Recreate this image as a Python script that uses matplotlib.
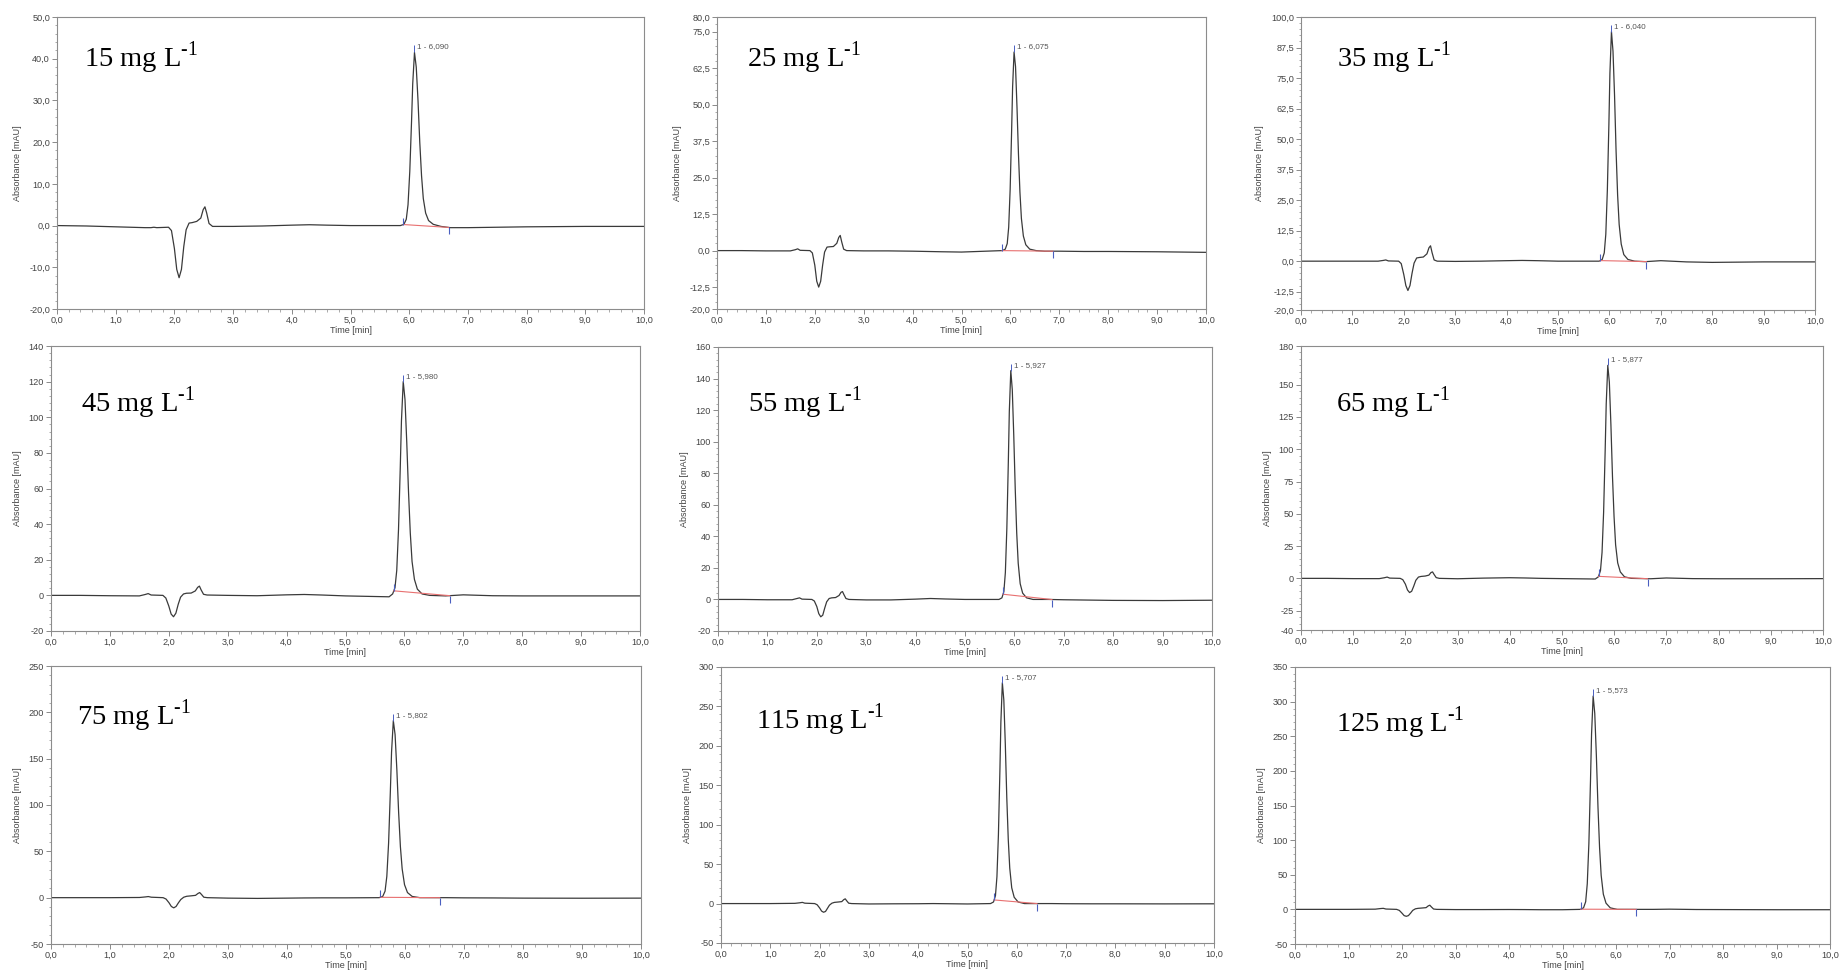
import numpy as np
import matplotlib.pyplot as plt
from matplotlib.ticker import FixedLocator, MultipleLocator, FuncFormatter

plt.rcParams['font.family'] = ['Liberation Sans', 'DejaVu Sans']
plt.rcParams['mathtext.fontset'] = 'custom'
plt.rcParams['mathtext.rm'] = 'Liberation Serif'

W, H = 1839, 973

# concentration of each standard
conc = [15, 25, 35, 45, 55, 65, 75, 115, 125]

# front part of the chromatogram (injection dip and small early peaks), time in min
t_front = [0.0, 0.5, 1.0, 1.5, 1.6, 1.65, 1.7, 1.9, 1.95, 2.0, 2.04, 2.08, 2.12, 2.16, 2.2,
           2.25, 2.3, 2.38, 2.45, 2.49, 2.52, 2.55, 2.59, 2.65, 3.0, 3.5, 4.0, 4.3, 4.6, 5.0]
front_15 = [0.0, -0.1, -0.3, -0.5, -0.5, -0.4, -0.5, -0.4, -1.2, -5.5, -10.5, -12.5, -10.5, -5.0, -1.0,
            0.6, 0.7, 1.0, 1.8, 3.8, 4.5, 3.0, 0.5, -0.2, -0.2, -0.1, 0.1, 0.2, 0.1, 0.0]
front_25 = [0.0, 0.0, -0.1, -0.1, 0.3, 0.6, 0.1, 0.0, -0.8, -5.0, -10.5, -12.5, -10.5, -5.0, -0.5,
            1.2, 1.3, 1.4, 2.5, 4.5, 5.2, 3.0, 0.5, 0.0, -0.1, -0.1, -0.2, -0.3, -0.4, -0.5]
front_35 = [0.0, 0.0, 0.0, 0.0, 0.3, 0.5, 0.1, 0.0, -1.0, -5.5, -10.0, -12.0, -10.0, -5.0, -0.8,
            1.3, 1.5, 1.7, 3.0, 5.5, 6.3, 3.5, 0.5, 0.0, -0.1, 0.0, 0.2, 0.3, 0.2, 0.0]
front_45 = [0.0, 0.0, -0.2, -0.3, 0.5, 1.0, 0.2, 0.0, -1.5, -6.0, -10.5, -12.0, -10.0, -5.0, -1.0,
            0.8, 1.2, 1.3, 2.5, 4.5, 5.2, 3.0, 0.6, 0.2, 0.0, -0.2, 0.3, 0.5, 0.2, -0.3]
front_55 = [0.0, 0.0, -0.2, -0.2, 0.6, 1.0, 0.2, 0.0, -1.0, -4.5, -9.0, -11.0, -10.0, -5.5, -1.5,
            0.6, 1.0, 1.2, 2.5, 4.5, 5.0, 3.0, 0.6, 0.0, -0.3, -0.3, 0.2, 0.6, 0.3, 0.0]
front_65 = [0.0, 0.0, -0.2, -0.2, 0.5, 1.0, 0.2, 0.0, -1.0, -4.5, -9.0, -11.0, -10.0, -6.0, -1.5,
            1.0, 1.5, 1.8, 2.5, 4.5, 5.0, 3.0, 0.6, 0.0, -0.3, 0.2, 0.5, 0.3, 0.0, -0.2]
front_75 = [0.0, 0.0, 0.0, 0.2, 0.8, 1.2, 0.5, 0.0, -1.5, -5.5, -9.5, -11.0, -9.5, -5.5, -2.0,
            0.5, 1.5, 2.0, 2.5, 4.5, 5.5, 3.5, 0.5, 0.0, -0.5, -0.8, -0.5, -0.3, -0.2, -0.2]
front_115 = [0.0, 0.0, 0.0, 0.3, 1.0, 1.5, 0.5, 0.0, -1.5, -5.5, -9.5, -11.0, -10.0, -6.0, -2.0,
             0.5, 1.5, 2.0, 2.5, 5.0, 6.0, 3.5, 0.5, 0.0, -0.5, -0.3, -0.2, 0.0, -0.2, -0.5]
front_125 = [0.0, 0.0, 0.0, 0.3, 1.2, 1.5, 0.5, 0.0, -1.5, -5.5, -9.0, -10.0, -9.0, -5.5, -1.5,
             0.8, 1.5, 2.0, 2.5, 5.0, 6.0, 3.5, 0.5, 0.0, -0.3, -0.3, -0.2, -0.3, -0.5, -0.5]

# main peak
peak_t_15 = [5.85, 5.91, 5.95, 5.98, 6.01, 6.04, 6.06, 6.09, 6.12, 6.15, 6.18, 6.21, 6.24, 6.28, 6.33, 6.41, 6.54]
peak_15 = [0.0, 0.3, 1.5, 5.0, 13.0, 25.0, 34.0, 41.5, 38.0, 30.0, 20.0, 12.0, 6.5, 3.0, 1.2, 0.3, -0.2]
peak_t_25 = [5.835, 5.895, 5.935, 5.965, 5.995, 6.025, 6.045, 6.075, 6.105, 6.135, 6.165, 6.195, 6.225, 6.265, 6.315, 6.395, 6.525]
peak_25 = [0.0, 0.5, 2.4, 8.0, 21.0, 41.0, 56.0, 68.0, 63.0, 49.0, 33.0, 20.0, 11.0, 5.0, 2.0, 0.5, 0.0]
peak_t_35 = [5.80, 5.86, 5.90, 5.93, 5.96, 5.99, 6.01, 6.04, 6.07, 6.10, 6.13, 6.16, 6.19, 6.23, 6.28, 6.36, 6.49]
peak_35 = [0.0, 0.7, 3.4, 11.0, 29.0, 56.0, 77.0, 94.0, 86.0, 68.0, 45.0, 27.0, 15.0, 7.0, 2.7, 0.7, 0.0]
peak_t_45 = [5.74, 5.80, 5.84, 5.87, 5.90, 5.93, 5.95, 5.98, 6.01, 6.04, 6.07, 6.10, 6.13, 6.17, 6.22, 6.30, 6.43]
peak_45 = [-0.8, 0.8, 4.3, 14.0, 37.0, 72.0, 98.0, 120.0, 110.0, 86.0, 58.0, 35.0, 19.0, 9.0, 3.5, 0.8, 0.0]
peak_t_55 = [5.687, 5.747, 5.787, 5.817, 5.847, 5.877, 5.897, 5.927, 5.957, 5.987, 6.017, 6.047, 6.077, 6.117, 6.167, 6.247, 6.377]
peak_55 = [0.0, 1.0, 5.0, 17.0, 45.0, 87.0, 119.0, 145.0, 133.0, 104.0, 70.0, 42.0, 23.0, 10.0, 4.0, 1.0, 0.0]
peak_t_65 = [5.637, 5.697, 5.737, 5.767, 5.797, 5.827, 5.847, 5.877, 5.907, 5.937, 5.967, 5.997, 6.027, 6.067, 6.117, 6.197, 6.327]
peak_65 = [-0.5, 1.2, 6.0, 20.0, 51.0, 99.0, 135.0, 165.0, 152.0, 119.0, 79.0, 48.0, 26.0, 12.0, 5.0, 1.2, 0.0]
peak_t_75 = [5.562, 5.622, 5.662, 5.692, 5.722, 5.752, 5.772, 5.802, 5.832, 5.862, 5.892, 5.922, 5.952, 5.992, 6.042, 6.122, 6.252]
peak_75 = [0.0, 1.3, 7.0, 23.0, 59.0, 115.0, 157.0, 191.0, 176.0, 138.0, 92.0, 55.0, 31.0, 14.0, 5.5, 1.3, 0.0]
peak_t_115 = [5.467, 5.527, 5.567, 5.597, 5.627, 5.657, 5.677, 5.707, 5.737, 5.767, 5.797, 5.827, 5.857, 5.897, 5.947, 6.027, 6.157]
peak_115 = [0.0, 2.0, 10.0, 34.0, 87.0, 168.0, 230.0, 280.0, 258.0, 202.0, 134.0, 81.0, 45.0, 20.0, 8.0, 2.0, 0.0]
peak_t_125 = [5.333, 5.393, 5.433, 5.463, 5.493, 5.523, 5.543, 5.573, 5.603, 5.633, 5.663, 5.693, 5.723, 5.763, 5.813, 5.893, 6.023]
peak_125 = [0.0, 2.2, 11.0, 37.0, 95.0, 185.0, 253.0, 308.0, 283.0, 222.0, 148.0, 89.0, 49.0, 22.0, 9.0, 2.2, 0.0]

# end of the run
t_tail = [6.7, 7.0, 7.5, 8.0, 9.0, 10.0]
tail_15 = [-0.5, -0.5, -0.4, -0.3, -0.2, -0.2]
tail_25 = [-0.2, -0.2, -0.3, -0.3, -0.4, -0.6]
tail_35 = [-0.2, 0.2, -0.3, -0.5, -0.3, -0.3]
tail_45 = [-0.3, 0.3, -0.2, -0.3, -0.3, -0.3]
tail_55 = [0.0, -0.2, -0.4, -0.6, -0.7, -0.5]
tail_65 = [-0.3, 0.3, -0.2, -0.3, -0.3, -0.2]
tail_75 = [0.0, -0.2, -0.3, -0.5, -0.6, -0.5]
tail_115 = [0.0, -0.2, -0.3, -0.3, -0.4, -0.3]
tail_125 = [0.0, 0.3, -0.2, -0.3, -0.5, -0.5]

# integration window of peak 1
int_start = [5.90, 5.83, 5.82, 5.82, 5.77, 5.70, 5.58, 5.54, 5.34]
int_end = [6.67, 6.87, 6.72, 6.77, 6.76, 6.64, 6.59, 6.41, 6.38]
ret_time = [6.090, 6.075, 6.040, 5.980, 5.927, 5.877, 5.802, 5.707, 5.573]

# y axis of each chromatogram
y_lims = [(-20, 50), (-20, 80), (-20, 100), (-20, 140), (-20, 160), (-40, 180), (-50, 250), (-50, 300), (-50, 350)]
y_ticks = [[-20, -10, 0, 10, 20, 30, 40, 50],
           [-20, -12.5, 0, 12.5, 25, 37.5, 50, 62.5, 75, 80],
           [-20, -12.5, 0, 12.5, 25, 37.5, 50, 62.5, 75, 87.5, 100],
           [-20, 0, 20, 40, 60, 80, 100, 120, 140],
           [-20, 0, 20, 40, 60, 80, 100, 120, 140, 160],
           [-40, -25, 0, 25, 50, 75, 100, 125, 150, 180],
           [-50, 0, 50, 100, 150, 200, 250],
           [-50, 0, 50, 100, 150, 200, 250, 300],
           [-50, 0, 50, 100, 150, 200, 250, 300, 350]]
y_minor = [2, 2.5, 2.5, 4, 4, 5, 10, 10, 10]
y_decimals = [1, 1, 1, 0, 0, 0, 0, 0, 0]

fronts = [front_15, front_25, front_35, front_45, front_55, front_65, front_75, front_115, front_125]
peak_ts = [peak_t_15, peak_t_25, peak_t_35, peak_t_45, peak_t_55, peak_t_65, peak_t_75, peak_t_115, peak_t_125]
peaks = [peak_15, peak_25, peak_35, peak_45, peak_55, peak_65, peak_75, peak_115, peak_125]
tails = [tail_15, tail_25, tail_35, tail_45, tail_55, tail_65, tail_75, tail_115, tail_125]

# axes boxes in pixels: left, right, top, bottom
boxes = [(57, 644, 17, 309), (717, 1206, 17, 309), (1301, 1815, 17, 310),
         (51, 640, 346, 631), (718, 1212, 347, 631), (1301, 1823, 346, 630),
         (51, 641, 666, 944), (721, 1214, 667, 943), (1295, 1830, 667, 944)]
label_pos = [(84, 67), (747, 67), (1337, 67), (81, 412), (748, 412), (1336, 412),
             (77, 725), (756, 729), (1336, 732)]


def comma_fmt(dec):
    return FuncFormatter(lambda v, p: ("{:.%df}" % dec).format(v).replace('.', ','))


fig = plt.figure(figsize=(W / 100, H / 100), dpi=100)

for i in range(9):
    l, r, t, b = boxes[i]
    ax = fig.add_axes([l / W, 1 - b / H, (r - l) / W, (b - t) / H])

    tt = np.array(t_front + peak_ts[i] + t_tail)
    aa = np.array(fronts[i] + peaks[i] + tails[i])
    ax.plot(tt, aa, color='#3a3a3a', lw=0.9)

    # integration baseline and delimiters
    y0 = np.interp(int_start[i], tt, aa)
    y1 = np.interp(int_end[i], tt, aa)
    ax.plot([int_start[i], int_end[i]], [y0, y1], color='#e87070', lw=0.8)
    ax.plot([int_start[i]], [y0], marker=2, ms=5, mew=0.8, color='#4a5fc0')
    ax.plot([int_end[i]], [y1], marker=3, ms=5, mew=0.8, color='#4a5fc0')

    # peak apex and label
    k = int(np.argmax(peaks[i]))
    xa, ya = peak_ts[i][k], peaks[i][k]
    ax.plot([xa], [ya], marker=2, ms=5, mew=0.7, color='#4a5fc0')
    ax.annotate("1 - {:.3f}".format(ret_time[i]).replace('.', ','), (xa, ya),
                xytext=(2, 4), textcoords='offset points', fontsize=5.8,
                color='#555555', va='center', ha='left')

    ax.set_xlim(0, 10)
    ax.set_ylim(*y_lims[i])
    ax.xaxis.set_major_locator(FixedLocator(np.arange(0, 10.5, 1.0)))
    ax.xaxis.set_minor_locator(MultipleLocator(0.2))
    ax.xaxis.set_major_formatter(comma_fmt(1))
    ax.yaxis.set_major_locator(FixedLocator(y_ticks[i]))
    ax.yaxis.set_minor_locator(MultipleLocator(y_minor[i]))
    ax.yaxis.set_major_formatter(comma_fmt(y_decimals[i]))

    ax.tick_params(which='major', direction='out', length=3.5, width=0.6, color='#777777',
                   labelsize=6.6, labelcolor='#444444', pad=1.5)
    ax.tick_params(which='minor', direction='out', length=1.8, width=0.5, color='#888888')
    for s in ax.spines.values():
        s.set_color('#8c8c8c')
        s.set_linewidth(0.8)

    ax.set_xlabel('Time [min]', fontsize=6.5, color='#444444', labelpad=1)
    ax.set_ylabel('Absorbance [mAU]', fontsize=6.5, color='#444444', labelpad=5)

    lx, ly = label_pos[i]
    fig.text(lx / W, 1 - ly / H, "%d mg L$^{\\text{-1}}$" % conc[i], fontsize=20.5,
             family='Liberation Serif', va='baseline', ha='left', color='black')

fig.savefig('out.png', dpi=100)
